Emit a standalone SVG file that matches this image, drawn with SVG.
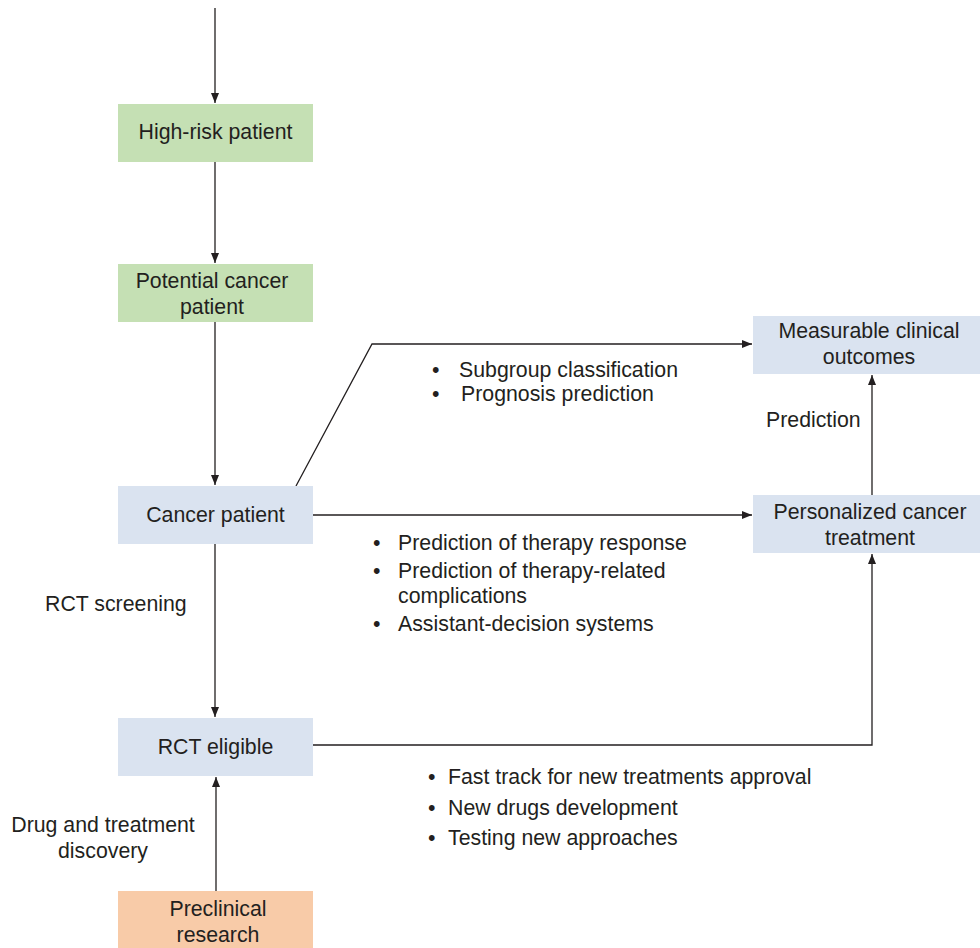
<svg xmlns="http://www.w3.org/2000/svg" width="980" height="948" viewBox="0 0 980 948">
<defs>
<marker id="ah" markerWidth="10" markerHeight="8" refX="10" refY="4" orient="auto" markerUnits="userSpaceOnUse">
<path d="M0,0 L10,4 L0,8 z" fill="#231f20"/>
</marker>
<style>
text{font-family:"Liberation Sans",Arial,sans-serif;font-size:21.3px;fill:#231f20}
.c{text-anchor:middle}
.g{fill:#c5e0b4}
.b{fill:#dae3f0}
.o{fill:#f8cba8}
.ln{stroke:#231f20;stroke-width:1.3;fill:none}
</style>
</defs>
<rect width="980" height="948" fill="#ffffff"/>
<g id="connectors">
<path class="ln" d="M215,8 V103" marker-end="url(#ah)"/>
<path class="ln" d="M215,162 V263" marker-end="url(#ah)"/>
<path class="ln" d="M215,322 V485" marker-end="url(#ah)"/>
<path class="ln" d="M215,544 V717" marker-end="url(#ah)"/>
<path class="ln" d="M216,891 V777" marker-end="url(#ah)"/>
<path class="ln" d="M296,486 L372,344 H752" marker-end="url(#ah)"/>
<path class="ln" d="M313,515 H752" marker-end="url(#ah)"/>
<path class="ln" d="M313,745 H872 V554" marker-end="url(#ah)"/>
<path class="ln" d="M872,495 V375" marker-end="url(#ah)"/>
</g>
<g id="high-risk">
<rect class="g" x="118" y="104" width="195" height="58"/>
<text class="c" x="215.5" y="139">High-risk patient</text>
</g>
<g id="potential">
<rect class="g" x="118" y="264" width="195" height="58"/>
<text class="c" x="212" y="288">Potential cancer</text>
<text class="c" x="212" y="314">patient</text>
</g>
<g id="cancer-patient">
<rect class="b" x="118" y="486" width="195" height="58"/>
<text class="c" x="215.5" y="522">Cancer patient</text>
</g>
<g id="rct-eligible">
<rect class="b" x="118" y="718" width="195" height="58"/>
<text class="c" x="215.5" y="754">RCT eligible</text>
</g>
<g id="preclinical">
<rect class="o" x="118" y="891" width="195" height="57"/>
<text class="c" x="218" y="916">Preclinical</text>
<text class="c" x="218" y="942">research</text>
</g>
<g id="measurable">
<rect class="b" x="753" y="316" width="227" height="58"/>
<text class="c" x="869" y="338">Measurable clinical</text>
<text class="c" x="869" y="364">outcomes</text>
</g>
<g id="personalized">
<rect class="b" x="753" y="495" width="227" height="58"/>
<text class="c" x="870" y="519">Personalized cancer</text>
<text class="c" x="870" y="545">treatment</text>
</g>
<g id="labels">
<text x="45" y="611">RCT screening</text>
<text class="c" x="103" y="832">Drug and treatment</text>
<text class="c" x="103" y="858">discovery</text>
<text x="766" y="427">Prediction</text>
<text x="432" y="377">•</text>
<text x="459" y="377">Subgroup classification</text>
<text x="432" y="401">•</text>
<text x="461" y="401">Prognosis prediction</text>
<text x="373" y="550">•</text>
<text x="398" y="550">Prediction of therapy response</text>
<text x="373" y="578">•</text>
<text x="398" y="578">Prediction of therapy-related</text>
<text x="398" y="603">complications</text>
<text x="373" y="631">•</text>
<text x="398" y="631">Assistant-decision systems</text>
<text x="428" y="784">•</text>
<text x="448" y="784">Fast track for new treatments approval</text>
<text x="428" y="815">•</text>
<text x="448" y="815">New drugs development</text>
<text x="428" y="845">•</text>
<text x="448" y="845">Testing new approaches</text>
</g>
</svg>
